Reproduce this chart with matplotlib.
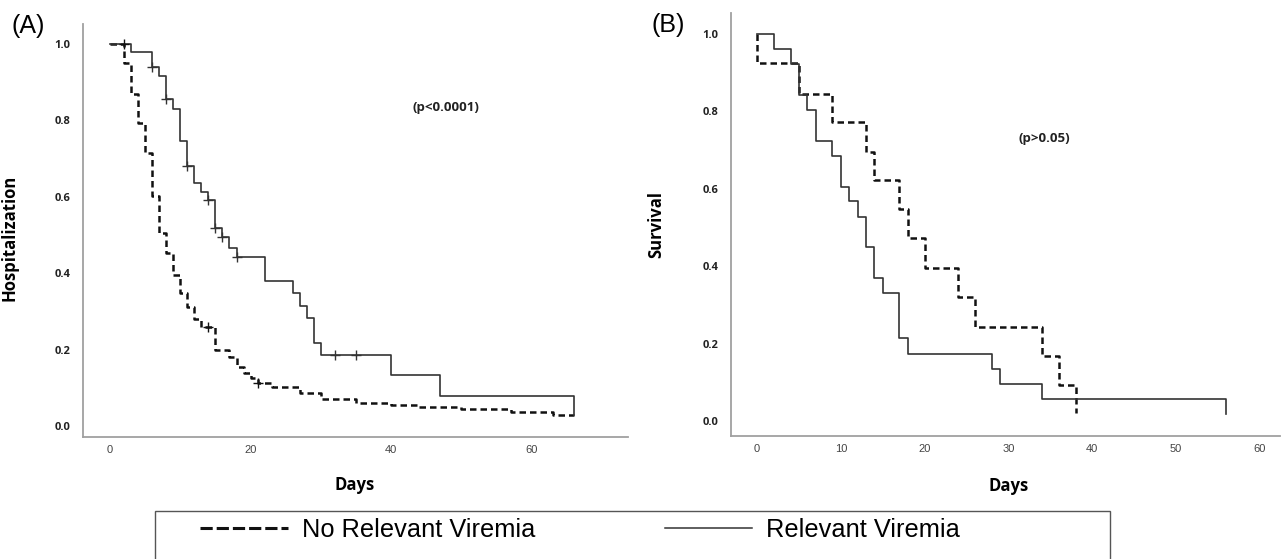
import matplotlib
matplotlib.use('Agg')
import matplotlib.pyplot as plt
from matplotlib.patches import Rectangle
from matplotlib.lines import Line2D

# (A) hospitalization - Relevant Viremia (solid)
a_rel_days = [0, 3, 6, 7, 8, 9, 10, 11, 12, 13, 14, 15, 16, 17, 18, 22, 26, 27, 28, 29, 30, 40, 47, 66]
a_rel_prob = [1.0, 0.979, 0.94, 0.917, 0.855, 0.83, 0.746, 0.68, 0.637, 0.612, 0.592, 0.519, 0.495,
              0.466, 0.443, 0.38, 0.348, 0.314, 0.283, 0.217, 0.186, 0.133, 0.078, 0.03]
a_rel_cens_days = [6, 8, 11, 14, 15, 16, 18, 32, 35]
a_rel_cens_prob = [0.94, 0.855, 0.68, 0.592, 0.519, 0.495, 0.443, 0.186, 0.186]

# (A) hospitalization - No Relevant Viremia (dashed)
a_no_days = [0, 2, 3, 4, 5, 6, 7, 8, 9, 10, 11, 12, 13, 15, 17, 18, 19, 20, 21, 23, 27, 30, 35,
             40, 44, 50, 57, 63, 66]
a_no_prob = [1.0, 0.95, 0.869, 0.793, 0.715, 0.602, 0.505, 0.452, 0.395, 0.348, 0.311, 0.28, 0.259,
             0.2, 0.181, 0.155, 0.138, 0.125, 0.112, 0.103, 0.087, 0.07, 0.06, 0.055, 0.05, 0.045,
             0.037, 0.029, 0.029]
a_no_cens_days = [2, 14, 21]
a_no_cens_prob = [1.0, 0.259, 0.112]

# (B) survival - Relevant Viremia (solid)
b_rel_days = [0, 2, 4, 5, 6, 7, 9, 10, 11, 12, 13, 14, 15, 17, 18, 28, 29, 34, 56]
b_rel_prob = [1.0, 0.961, 0.922, 0.842, 0.804, 0.724, 0.685, 0.605, 0.568, 0.527, 0.45, 0.37, 0.33,
              0.215, 0.173, 0.134, 0.096, 0.057, 0.018]

# (B) survival - No Relevant Viremia (dashed)
b_no_days = [0, 0, 5, 9, 13, 14, 17, 18, 20, 24, 26, 34, 36, 38]
b_no_prob = [1.0, 0.925, 0.845, 0.773, 0.695, 0.623, 0.548, 0.472, 0.395, 0.32, 0.243, 0.168,
             0.093, 0.02]

y_ticks = [0.0, 0.2, 0.4, 0.6, 0.8, 1.0]
a_x_ticks = [0, 20, 40, 60]
b_x_ticks = [0, 10, 20, 30, 40, 50, 60]

W, H = 1283, 559
fig = plt.figure(figsize=(W / 100, H / 100), dpi=100)

BOLD = 'Open Sans'
dash_kw = dict(color='#111111', lw=1.8, linestyle=(0, (2.6, 1.6)), where='post')
solid_kw = dict(color='#333333', lw=1.2, where='post')
cens_kw = dict(marker='+', linestyle='none', ms=7, mew=1.0)


def style_axes(ax, xticks):
    for s in ['top', 'right']:
        ax.spines[s].set_visible(False)
    for s in ['left', 'bottom']:
        ax.spines[s].set_color('#a0a0a0')
        ax.spines[s].set_linewidth(1.3)
    ax.set_yticks(y_ticks)
    ax.set_yticklabels(['%.1f' % v for v in y_ticks], fontfamily=BOLD, fontweight='bold',
                       fontsize=8, color='#222222')
    ax.set_xticks(xticks)
    ax.set_xticklabels([str(v) for v in xticks], fontfamily='Liberation Sans', fontsize=8,
                       color='#444444')
    ax.tick_params(axis='y', length=0, pad=9)
    ax.tick_params(axis='x', length=0, pad=6)


# panel A
axA = fig.add_axes([83 / W, 1 - 437 / H, (628 - 83) / W, (437 - 24) / H])
axA.step(a_no_days, a_no_prob, **dash_kw)
axA.step(a_rel_days, a_rel_prob, **solid_kw)
axA.plot(a_rel_cens_days, a_rel_cens_prob, color='#333333', **cens_kw)
axA.plot(a_no_cens_days, a_no_cens_prob, color='#111111', **cens_kw)
axA.set_xlim(-3.84, 73.7)
axA.set_ylim(-0.0288, 1.0524)
style_axes(axA, a_x_ticks)
axA.set_ylabel('Hospitalization', fontfamily=BOLD, fontweight='bold', fontsize=12)
axA.yaxis.set_label_coords(-0.119, 0.482)
axA.set_xlabel('Days', fontfamily=BOLD, fontweight='bold', fontsize=12)
axA.xaxis.set_label_coords(0.499, -0.094)

# panel B
axB = fig.add_axes([731 / W, 1 - 436 / H, (1280 - 731) / W, (436 - 13) / H])
axB.step(b_no_days, b_no_prob, **dash_kw)
axB.step(b_rel_days, b_rel_prob, **solid_kw)
axB.set_xlim(-3.1, 62.39)
axB.set_ylim(-0.0388, 1.0543)
style_axes(axB, b_x_ticks)
axB.set_ylabel('Survival', fontfamily=BOLD, fontweight='bold', fontsize=12)
axB.yaxis.set_label_coords(-0.12, 0.5)
axB.set_xlabel('Days', fontfamily=BOLD, fontweight='bold', fontsize=12)
axB.xaxis.set_label_coords(0.506, -0.097)

# panel letters and p-values
fig.text(28 / W, 1 - 26 / H, '(A)', fontfamily='Liberation Sans', fontsize=18, ha='center', va='center')
fig.text(668 / W, 1 - 25 / H, '(B)', fontfamily='Liberation Sans', fontsize=18, ha='center', va='center')
fig.text(446 / W, 1 - 107 / H, '(p<0.0001)', fontfamily=BOLD, fontweight='bold', fontsize=9.5,
         ha='center', va='center', color='#222222')
fig.text(1044 / W, 1 - 138 / H, '(p>0.05)', fontfamily=BOLD, fontweight='bold', fontsize=9.5,
         ha='center', va='center', color='#222222')

# legend box (runs off the bottom edge like the original)
fig.patches.append(Rectangle((155 / W, -30 / H), (1110 - 155) / W, (559 - 511 + 30) / H,
                             transform=fig.transFigure, fill=False, edgecolor='#555555', lw=1.0))
leg_handles = [Line2D([], [], color='#111111', lw=2.2, linestyle=(0, (4.0, 1.3))),
               Line2D([], [], color='#333333', lw=1.1)]
fig.legend(leg_handles, ['No Relevant Viremia', 'Relevant Viremia'], ncol=2,
           loc='center left', bbox_to_anchor=(200 / W, 1 - 530 / H), frameon=False,
           prop={'family': 'Liberation Sans', 'size': 18.3}, handlelength=3.45, handletextpad=0.55,
           columnspacing=5.1, borderpad=0, borderaxespad=0)

fig.savefig('out.png', dpi=100)
